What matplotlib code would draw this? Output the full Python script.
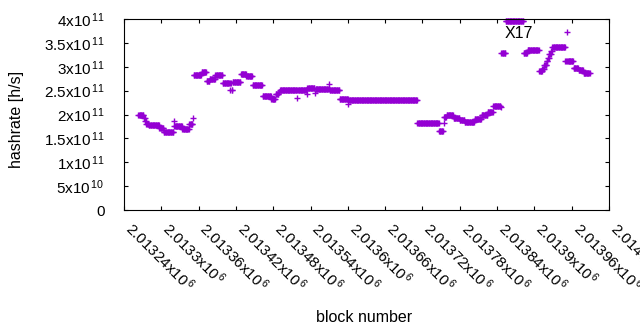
import matplotlib
matplotlib.use("Agg")
import matplotlib.pyplot as plt
import numpy as np

plt.rcParams["font.family"] = ["Liberation Sans", "DejaVu Sans"]
plt.rcParams["mathtext.fontset"] = "custom"
plt.rcParams["mathtext.rm"] = "Liberation Sans"
plt.rcParams["mathtext.it"] = "Liberation Sans:italic"
plt.rcParams["mathtext.bf"] = "Liberation Sans:bold"

# hashrate per block, stored as runs of equal value (run-length encoded)
first_block = 2013263
run_last_block = [
    2013263, 2013271, 2013273, 2013275, 2013279, 2013296, 2013303, 2013319,
    2013320, 2013333, 2013344, 2013350, 2013351,
    2013364, 2013372, 2013377, 2013386, 2013398, 2013409, 2013410, 2013412,
    2013414, 2013427, 2013436, 2013446, 2013462, 2013476, 2013483, 2013488,
    2013490, 2013517, 2013518, 2013533, 2013534, 2013546, 2013547, 2013569,
    2013570, 2013586, 2013600, 2013601, 2013711,
    2013746, 2013753, 2013754, 2013758, 2013769, 2013779, 2013787, 2013803,
    2013814, 2013824, 2013833, 2013845, 2013846,
    2013853, 2013882, 2013888, 2013907, 2013912, 2013915, 2013919, 2013921,
    2013923, 2013926, 2013928, 2013949, 2013952, 2013953, 2013962, 2013970,
    2013978, 2013989,
]
# in units of 1e11 h/s
run_hashrate = [
    1.99, 1.98, 1.93, 1.87, 1.80, 1.77, 1.71, 1.63,
    1.86, 1.75, 1.70, 1.80, 1.92,
    2.83, 2.88, 2.70, 2.74, 2.82, 2.66, 2.51, 2.66,
    2.51, 2.68, 2.85, 2.80, 2.62, 2.38, 2.32, 2.42,
    2.47, 2.51, 2.34, 2.51, 2.43, 2.55, 2.45, 2.54,
    2.64, 2.52, 2.33, 2.22, 2.31,
    1.83, 1.65, 1.82, 1.95, 1.99, 1.93, 1.88, 1.84,
    1.91, 1.98, 2.05, 2.18, 2.16,
    3.29, 3.96, 3.29, 3.36, 2.91, 2.96, 3.04, 3.12,
    3.19, 3.26, 3.33, 3.41, 3.12, 3.73, 3.12, 2.97,
    2.93, 2.87,
]

x_ticks = [2013240, 2013300, 2013360, 2013420, 2013480, 2013540, 2013600,
           2013660, 2013720, 2013780, 2013840, 2013900, 2013960, 2014020]
x_ticklabels = ["2.01324", "2.0133", "2.01336", "2.01342", "2.01348", "2.01354",
                "2.0136", "2.01366", "2.01372", "2.01378", "2.01384", "2.0139",
                "2.01396", "2.01402"]
y_ticks = [0, 0.5e11, 1e11, 1.5e11, 2e11, 2.5e11, 3e11, 3.5e11, 4e11]
y_ticklabels = ["0", "5x10$^{\\,10}$", "1x10$^{\\,11}$", "1.5x10$^{\\,11}$",
                "2x10$^{\\,11}$", "2.5x10$^{\\,11}$", "3x10$^{\\,11}$",
                "3.5x10$^{\\,11}$", "4x10$^{\\,11}$"]

counts = np.diff([first_block - 1] + run_last_block)
blocks = np.arange(first_block, run_last_block[-1] + 1)
hashrate = np.repeat(run_hashrate, counts) * 1e11

fig, ax = plt.subplots(figsize=(6.4, 3.3), dpi=100)
fig.subplots_adjust(left=124 / 640, right=609 / 640, bottom=1 - 210 / 330, top=1 - 19 / 330)

ax.plot(blocks, hashrate, linestyle="none", marker="+", markersize=5,
        markeredgewidth=1.0, color="#9400d3", clip_on=False)

ax.set_xlim(2013240, 2014020)
ax.set_ylim(0, 4e11)

ax.set_xticks(x_ticks)
ax.set_xticklabels([s + "x10$^{\\,6}$" for s in x_ticklabels])
ax.set_yticks(y_ticks)
ax.set_yticklabels(y_ticklabels)
ax.tick_params(direction="in", length=3, width=0.8, top=True, right=True,
               labelsize=11, colors="black")
ax.tick_params(axis="y", pad=14)
ax.tick_params(axis="x", pad=14)
for lab in ax.get_xticklabels():
    lab.set_rotation(-45)
    lab.set_ha("left")
    lab.set_va("baseline")
    lab.set_rotation_mode("anchor")
for sp in ax.spines.values():
    sp.set_linewidth(0.8)

ax.text(2013875, 3.60e11, "X17", ha="center", va="baseline", fontsize=11.5)

fig.text(364 / 640, 1 - 321.5 / 330, "block number", ha="center", va="baseline", fontsize=11.5)
fig.text(24 / 640, 1 - 119 / 330, "hashrate [h/s]", ha="right", va="center",
         rotation=90, fontsize=11.5)

fig.savefig("out.png", dpi=100)
